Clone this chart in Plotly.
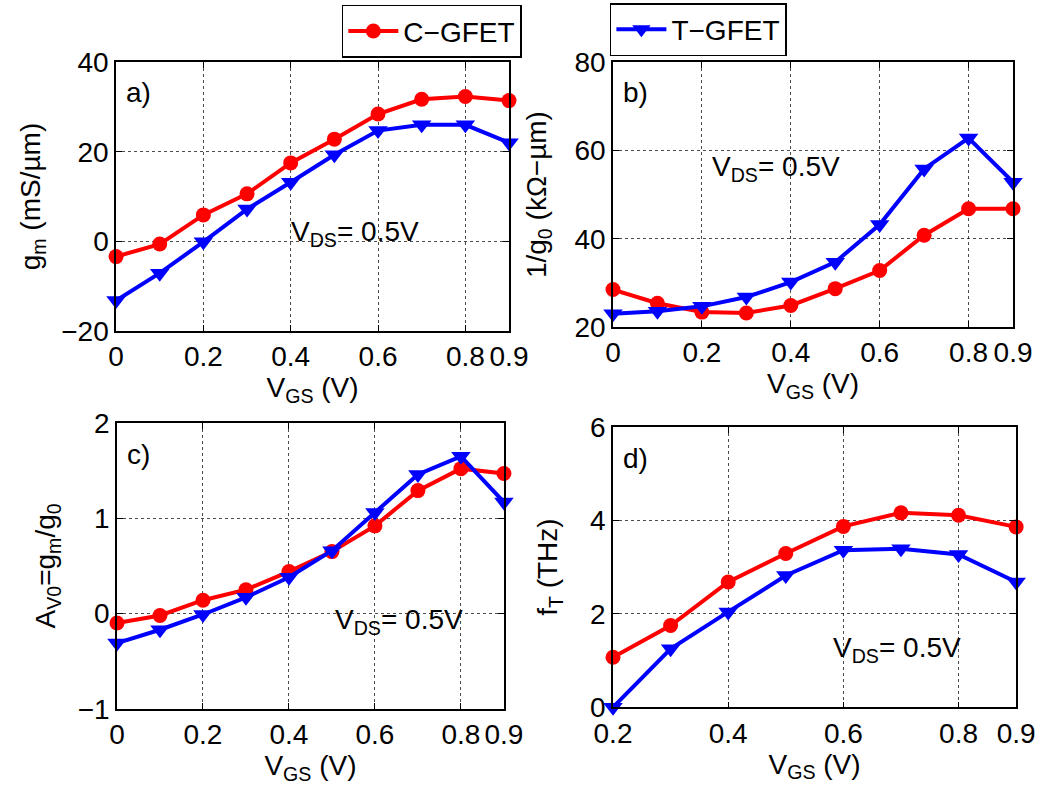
import plotly.graph_objects as go

# ---- data ----
vgs = [0, 0.1, 0.2, 0.3, 0.4, 0.5, 0.6, 0.7, 0.8, 0.9]
vgs_ft = [0.2, 0.3, 0.4, 0.5, 0.6, 0.7, 0.8, 0.9]

gm_c = [-3.4, -0.6, 5.9, 10.6, 17.5, 22.8, 28.4, 31.7, 32.3, 31.4]
gm_t = [-13.2, -7.1, -0.1, 7.2, 13.2, 19.3, 24.7, 26.0, 26.0, 22.0]

ro_c = [28.5, 25.4, 23.4, 23.2, 24.9, 28.7, 32.8, 40.8, 46.8, 46.8]
ro_t = [23.0, 23.6, 24.7, 26.8, 30.2, 34.7, 43.2, 55.8, 62.8, 52.8]

av_c = [-0.10, -0.02, 0.14, 0.25, 0.44, 0.65, 0.92, 1.29, 1.52, 1.47]
av_t = [-0.31, -0.17, -0.01, 0.17, 0.38, 0.66, 1.06, 1.46, 1.65, 1.17]

ft_c = [1.07, 1.75, 2.68, 3.29, 3.87, 4.16, 4.11, 3.86]
ft_t = [0.0, 1.25, 2.04, 2.82, 3.36, 3.39, 3.27, 2.68]

xticks_full = [0, 0.2, 0.4, 0.6, 0.8, 0.9]
xticklabels_full = ["0", "0.2", "0.4", "0.6", "0.8", "0.9"]
xticks_ft = [0.2, 0.4, 0.6, 0.8, 0.9]
xticklabels_ft = ["0.2", "0.4", "0.6", "0.8", "0.9"]

RED = "#ff0000"
BLUE = "#0000ff"
FONT = "Liberation Sans, Arial, sans-serif"
FS = 28

fig = go.Figure()

panels = [
    ("x", "y", vgs, gm_c, gm_t),
    ("x2", "y2", vgs, ro_c, ro_t),
    ("x3", "y3", vgs, av_c, av_t),
    ("x4", "y4", vgs_ft, ft_c, ft_t),
]
for i, (xa, ya, xs, yc, yt) in enumerate(panels):
    fig.add_trace(go.Scatter(
        x=xs, y=yc, xaxis=xa, yaxis=ya, mode="lines+markers", name="C−GFET",
        line=dict(color=RED, width=4), marker=dict(symbol="circle", size=15, color=RED),
        cliponaxis=False, showlegend=(i == 0), legend="legend"))
    fig.add_trace(go.Scatter(
        x=xs, y=yt, xaxis=xa, yaxis=ya, mode="lines+markers", name="T−GFET",
        line=dict(color=BLUE, width=4), marker=dict(symbol="triangle-down", size=17, color=BLUE),
        cliponaxis=False, showlegend=(i == 0), legend="legend2"))

axis_common = dict(
    showline=True, linecolor="black", linewidth=1.5, mirror="ticks",
    ticks="inside", ticklen=6, tickcolor="black", automargin=False,
    showgrid=True, gridcolor="rgba(0,0,0,0.7)", griddash="dot", gridwidth=1,
    zeroline=False, tickfont=dict(size=FS, color="black", family=FONT),
)


def xtitle():
    return dict(text="V<sub>GS</sub> (V)", font=dict(size=FS, color="black", family=FONT), standoff=0)


def ytitle(t, st):
    return dict(text=t, font=dict(size=FS, color="black", family=FONT), standoff=st)


fig.update_layout(
    width=1039, height=792,
    margin=dict(l=0, r=0, t=0, b=0, pad=0, autoexpand=False),
    paper_bgcolor="white", plot_bgcolor="white",
    font=dict(family=FONT, color="black"),
    xaxis=dict(domain=[0.1117, 0.4899], range=[0, 0.9], tickvals=xticks_full,
               ticktext=xticklabels_full, title=xtitle(), anchor="y", **axis_common),
    yaxis=dict(domain=[0.582, 0.9217], range=[-20, 40], tickvals=[-20, 0, 20, 40], anchor="x",
               title=ytitle("g<sub>m</sub> (mS/µm)", 12), **axis_common),
    xaxis2=dict(domain=[0.590, 0.975], range=[0, 0.9], tickvals=xticks_full,
                ticktext=xticklabels_full, title=xtitle(), anchor="y2", **axis_common),
    yaxis2=dict(domain=[0.587, 0.9217], range=[20, 80], tickvals=[20, 40, 60, 80], anchor="x2",
                title=ytitle("1/g<sub>0</sub> (kΩ−µm)", 20), **axis_common),
    xaxis3=dict(domain=[0.1126, 0.485], range=[0, 0.9], tickvals=xticks_full,
                ticktext=xticklabels_full, title=xtitle(), anchor="y3", **axis_common),
    yaxis3=dict(domain=[0.105, 0.466], range=[-1, 2], tickvals=[-1, 0, 1, 2], anchor="x3",
                title=ytitle("A<sub>V0</sub>=g<sub>m</sub>/g<sub>0</sub>", 14), **axis_common),
    xaxis4=dict(domain=[0.590, 0.978], range=[0.2, 0.9], tickvals=xticks_ft,
                ticktext=xticklabels_ft, title=xtitle(), anchor="y4", **axis_common),
    yaxis4=dict(domain=[0.107, 0.461], range=[0, 6], tickvals=[0, 2, 4, 6], anchor="x4",
                title=ytitle("f<sub>T</sub> (THz)", 24), **axis_common),
    legend=dict(x=0.329, y=0.994, xanchor="left", yanchor="top",
                orientation="h", bordercolor="black", borderwidth=1.5, bgcolor="white",
                itemwidth=50, font=dict(size=28, color="black", family=FONT)),
    legend2=dict(x=0.587, y=0.996, xanchor="left", yanchor="top",
                 orientation="h", bordercolor="black", borderwidth=1.5, bgcolor="white",
                 itemwidth=50, font=dict(size=28, color="black", family=FONT)),
)

labels = [("x domain", "y domain", "a)"), ("x2 domain", "y2 domain", "b)"),
          ("x3 domain", "y3 domain", "c)"), ("x4 domain", "y4 domain", "d)")]
for xr, yr, t in labels:
    fig.add_annotation(xref=xr, yref=yr, x=0.02, y=0.95, text=t, showarrow=False,
                       xanchor="left", yanchor="top", font=dict(size=FS, color="black", family=FONT))

vds = "V<sub>DS</sub>= 0.5V"
vds_pos = [("x", "y", 0.395, 6.0), ("x2", "y2", 0.218, 60.3), ("x3", "y3", 0.502, 0.12), ("x4", "y4", 0.578, 1.65)]
for xr, yr, xv, yv in vds_pos:
    fig.add_annotation(xref=xr, yref=yr, x=xv, y=yv, text=vds, showarrow=False,
                       xanchor="left", yanchor="top", font=dict(size=FS, color="black", family=FONT))

fig.write_html("out.html")
